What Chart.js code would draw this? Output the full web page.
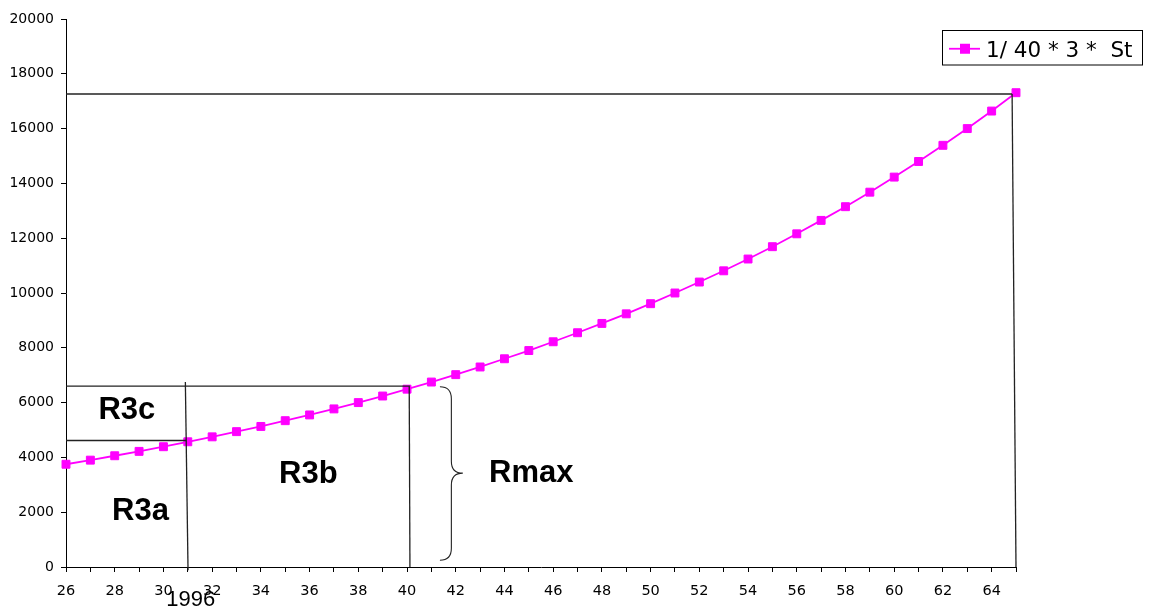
<!DOCTYPE html>
<html><head><meta charset="utf-8">
<script src="https://cdn.jsdelivr.net/npm/chart.js@4.4.1/dist/chart.umd.min.js"></script>
<style>html,body{margin:0;padding:0;background:#fff;overflow:hidden}#wrap{width:1149px;height:607px;position:relative}</style>
</head><body><div id="wrap"><canvas id="c" width="1149" height="607"></canvas></div>
<script>
// ---- data ----
const ages = [26,27,28,29,30,31,32,33,34,35,36,37,38,39,40,41,42,43,44,45,46,47,48,49,50,51,52,53,54,55,56,57,58,59,60,61,62,63,64,65];
const values = [3750,3900,4060,4220,4390,4570,4750,4940,5130,5340,5550,5770,6000,6240,6490,6750,7020,7300,7600,7900,8220,8550,8890,9240,9610,10000,10400,10810,11240,11690,12160,12650,13150,13680,14230,14800,15390,16000,16640,17310];
const xTickLabels = ['26','28','30','32','34','36','38','40','42','44','46','48','50','52','54','56','58','60','62','64'];
const yTickLabels = ['0','2000','4000','6000','8000','10000','12000','14000','16000','18000','20000'];
const seriesLabel = '1/ 40 * 3 *  St';

// annotation geometry, in data units (age, value)
const annoLines = [
  [[26,17263],[64.84,17263]],
  [[64.84,17263],[65.0,0]],
  [[26,6599],[40.12,6599]],
  [[40.09,6599],[40.12,0]],
  [[26,4616],[30.94,4616]],
  [[30.90,6756],[31.01,-120]]
];
const braceDef = {xLeft:41.35, xTip:42.29, yTop:6581, yMid:3425, yBot:245};
const annoTexts = [
  {text:'R3c', x:28.50, y:5401, bold:true},
  {text:'R3a', x:29.06, y:1713, bold:true},
  {text:'R3b', x:35.95, y:3082, bold:true},
  {text:'Rmax', x:45.10, y:3090, bold:true},
  {text:'1996', x:31.12, y:-1440, bold:false}
];

const SANS = '"Liberation Sans", Arial, sans-serif';
const TICKFONT = '"DejaVu Sans", sans-serif';

const annoPlugin = {
  id: 'anno',
  afterDatasetsDraw(chart) {
    const ctx = chart.ctx, xs = chart.scales.x, ys = chart.scales.y;
    const px = v => xs.getPixelForValue(v), py = v => ys.getPixelForValue(v);
    ctx.save();
    ctx.strokeStyle = '#222';
    ctx.lineWidth = 1.3;
    annoLines.forEach(([a,b]) => {
      ctx.beginPath();
      ctx.moveTo(px(a[0]), py(a[1]));
      ctx.lineTo(px(b[0]), py(b[1]));
      ctx.stroke();
    });
    // brace
    const xl = px(braceDef.xLeft), xt = px(braceDef.xTip);
    const xm = (xl + xt) / 2;
    const yt = py(braceDef.yTop), ym = py(braceDef.yMid), yb = py(braceDef.yBot);
    const r = 12;
    ctx.lineWidth = 1.1;
    ctx.beginPath();
    ctx.moveTo(xl, yt);
    ctx.quadraticCurveTo(xm, yt, xm, yt + r);
    ctx.lineTo(xm, ym - r);
    ctx.quadraticCurveTo(xm, ym, xt, ym);
    ctx.quadraticCurveTo(xm, ym, xm, ym + r);
    ctx.lineTo(xm, yb - r);
    ctx.quadraticCurveTo(xm, yb, xl, yb);
    ctx.stroke();
    // texts
    ctx.fillStyle = '#000';
    ctx.textAlign = 'center';
    ctx.textBaseline = 'alphabetic';
    annoTexts.forEach(t => {
      ctx.font = t.bold ? 'bold 31px ' + SANS : '22px ' + SANS;
      ctx.fillText(t.text, px(t.x), py(t.y));
    });
    ctx.restore();
  },
  afterDraw(chart) {
    // legend box
    const ctx = chart.ctx;
    const ds = chart.data.datasets[0];
    ctx.save();
    const bx = 942.5, by = 30.5, bw = 200, bh = 34.5;
    ctx.fillStyle = '#fff';
    ctx.fillRect(bx, by, bw, bh);
    ctx.strokeStyle = '#000';
    ctx.lineWidth = 1;
    ctx.strokeRect(bx, by, bw, bh);
    const cy = by + bh / 2 + 1;
    ctx.strokeStyle = ds.borderColor;
    ctx.lineWidth = 1.8;
    ctx.beginPath(); ctx.moveTo(949, cy); ctx.lineTo(980, cy); ctx.stroke();
    ctx.fillStyle = ds.backgroundColor;
    ctx.fillRect(965 - 5, cy - 5, 10, 10);
    ctx.fillStyle = '#000';
    ctx.font = '21.5px ' + TICKFONT;
    ctx.textAlign = 'left';
    ctx.textBaseline = 'alphabetic';
    ctx.fillText(ds.label, 986, 56.7);
    ctx.restore();
  }
};

new Chart(document.getElementById('c'), {
  type: 'line',
  data: {
    datasets: [{
      label: seriesLabel,
      data: ages.map((a, i) => ({x: a, y: values[i]})),
      borderColor: '#FF00FF',
      backgroundColor: '#FF00FF',
      borderWidth: 1.8,
      pointStyle: 'rect',
      pointRadius: 5.6,
      pointBorderWidth: 1,
      pointBackgroundColor: '#FF00FF',
      pointBorderColor: '#FF00FF',
      tension: 0,
      clip: false
    }]
  },
  options: {
    responsive: false,
    animation: false,
    devicePixelRatio: 1,
    layout: {padding: {top: 19, right: 133, left: 0, bottom: 0}},
    plugins: {legend: {display: false}, tooltip: {enabled: false}},
    scales: {
      x: {
        type: 'linear',
        min: ages[0], max: ages[ages.length - 1],
        afterFit(s) { s.height = 40; },
        grid: {drawOnChartArea: false, drawTicks: true, tickLength: 5, color: '#000', tickColor: '#000'},
        border: {display: true, color: '#000', width: 1},
        ticks: {
          stepSize: 1, autoSkip: false, maxRotation: 0, minRotation: 0,
          padding: 11, color: '#000',
          font: {family: TICKFONT, size: 14.5},
          callback: v => xTickLabels.includes(String(v)) ? String(v) : ''
        }
      },
      y: {
        min: 0, max: Number(yTickLabels[yTickLabels.length - 1]),
        afterFit(s) { s.width = 66; },
        grid: {drawOnChartArea: false, drawTicks: true, tickLength: 5, color: '#000', tickColor: '#000'},
        border: {display: true, color: '#000', width: 1},
        ticks: {
          stepSize: Number(yTickLabels[1]), padding: 7, color: '#000',
          font: {family: TICKFONT, size: 14},
          callback: v => yTickLabels.includes(String(v)) ? String(v) : ''
        }
      }
    }
  },
  plugins: [annoPlugin]
});
</script>
</body></html>
